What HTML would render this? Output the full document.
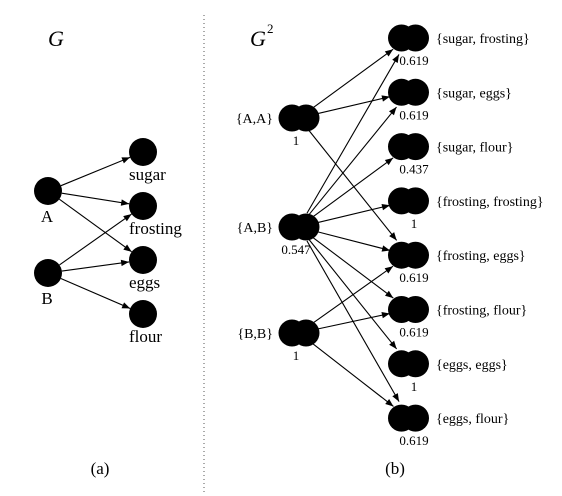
<!DOCTYPE html>
<html><head><meta charset="utf-8"><style>
html,body{margin:0;padding:0;background:#fff;}
svg{display:block;font-family:"Liberation Serif",serif;}
</style></head><body>
<svg id="fig" width="562" height="496" viewBox="0 0 562 496">
<defs><marker id="ah" viewBox="0 0 10 10" refX="10" refY="5" markerWidth="10" markerHeight="8" markerUnits="userSpaceOnUse" orient="auto"><path d="M0,1 L10,5 L0,9 z" fill="#000"/></marker></defs>
<line x1="204" y1="15" x2="204" y2="492" stroke="#555" stroke-width="1" stroke-dasharray="1,3"/>
<text x="48" y="46" font-size="22" font-style="italic">G</text>
<text x="250" y="46" font-size="22" font-style="italic">G</text>
<text x="267" y="33" font-size="13">2</text>
<text x="100" y="474" font-size="17" text-anchor="middle">(a)</text>
<text x="395" y="474" font-size="17" text-anchor="middle">(b)</text>
<g id="left"></g>
<g id="right"></g>
</svg>
<script>
const leftSources = ["A","B"];
const leftTargets = ["sugar","frosting","eggs","flour"];
const leftEdges = [[0,0],[0,1],[0,2],[1,1],[1,2],[1,3]];
const pairSources = ["{A,A}","{A,B}","{B,B}"];
const pairSourceValues = ["1","0.547","1"];
const pairTargets = ["{sugar, frosting}","{sugar, eggs}","{sugar, flour}","{frosting, frosting}","{frosting, eggs}","{frosting, flour}","{eggs, eggs}","{eggs, flour}"];
const pairTargetValues = ["0.619","0.619","0.437","1","0.619","0.619","1","0.619"];
const pairEdges = [[0,0],[0,1],[0,4],[1,0],[1,1],[1,2],[1,3],[1,4],[1,5],[1,6],[1,7],[2,4],[2,5],[2,7]];

const NS="http://www.w3.org/2000/svg";
function mk(tag,attrs,parent,txt){const e=document.createElementNS(NS,tag);for(const k in attrs)e.setAttribute(k,attrs[k]);if(txt!==undefined)e.textContent=txt;parent.appendChild(e);return e;}
function arrow(g,x1,y1,x2,y2,r1,r2){const dx=x2-x1,dy=y2-y1,L=Math.hypot(dx,dy),ux=dx/L,uy=dy/L;
 const l=mk('line',{x1:x1+ux*r1,y1:y1+uy*r1,x2:x2-ux*r2,y2:y2-uy*r2,stroke:'#000','stroke-width':1.1,'marker-end':'url(#ah)'},g);
 
 }
const L=document.getElementById('left'), R=document.getElementById('right');
const lsY=i=>191+i*82, ltY=i=>152+i*54;
leftEdges.forEach(([s,t])=>arrow(L,48,lsY(s),143,ltY(t),14,14));
leftSources.forEach((n,i)=>{const c=mk('circle',{cx:48,cy:lsY(i),r:14,fill:'#000'},L);
 
 
 const t=mk('text',{x:47,y:lsY(i)+31,'font-size':17,'text-anchor':'middle'},L,n);
 
 });
leftTargets.forEach((n,i)=>{const c=mk('circle',{cx:143,cy:ltY(i),r:14,fill:'#000'},L);
 
 
 const t=mk('text',{x:129,y:ltY(i)+28,'font-size':17},L,n);
 
 });
const psY=i=>[118,227,333][i], ptY=i=>38+i*54.3;
const PSX=299, PTX=408.5;
pairEdges.forEach(([s,t])=>arrow(R,PSX,psY(s),PTX,ptY(t),16,19));
function pairNode(cx,cy,name){const g=mk('g',{},R);
 
 
 mk('circle',{cx:cx-7,cy:cy,r:13.5,fill:'#000'},g);mk('circle',{cx:cx+7,cy:cy,r:13.5,fill:'#000'},g);}
pairSources.forEach((n,i)=>{pairNode(PSX,psY(i),'pair-node-source');
 const t=mk('text',{x:273,y:psY(i)+5,'font-size':14,'text-anchor':'end'},R,n);
 
 
 const v=mk('text',{x:296,y:psY(i)+27,'font-size':13,'text-anchor':'middle'},R,pairSourceValues[i]);
 
 });
pairTargets.forEach((n,i)=>{pairNode(PTX,ptY(i),'pair-node-target');
 const t=mk('text',{x:436,y:ptY(i)+5,'font-size':14},R,n);
 
 
 const v=mk('text',{x:414,y:ptY(i)+27,'font-size':13,'text-anchor':'middle'},R,pairTargetValues[i]);
 
 });
</script>
</body></html>
